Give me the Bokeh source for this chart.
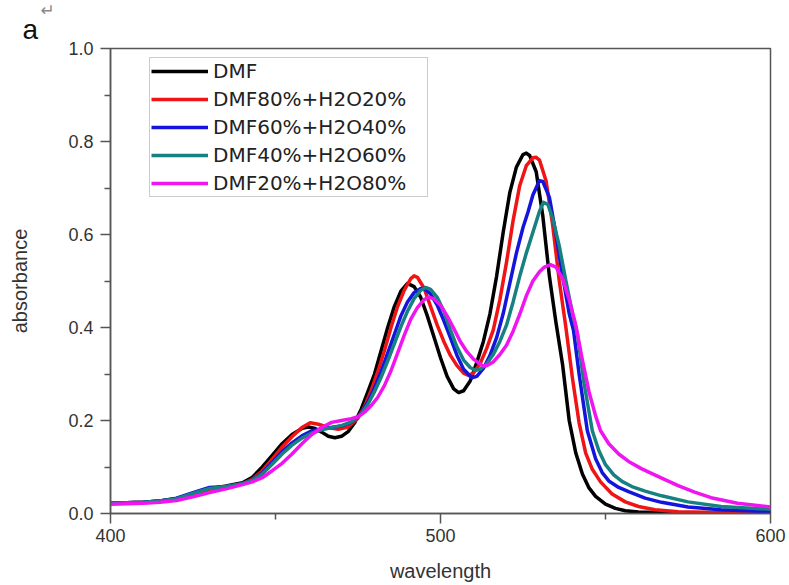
from bokeh.plotting import figure
from bokeh.models import FixedTicker, PrintfTickFormatter, Range1d, Title
from bokeh.embed import file_html
from bokeh.resources import INLINE

# ---------------- data ----------------
series_names = ["DMF", "DMF80%+H2O20%", "DMF60%+H2O40%", "DMF40%+H2O60%", "DMF20%+H2O80%"]
series_colors = ["#000000", "#f01414", "#1414dc", "#178080", "#f014f0"]

wl_dmf = [400, 410, 415, 420, 425, 430, 435, 440, 443, 446, 449, 452, 455, 458, 460, 462, 464, 466, 468,
          470, 472, 474, 476, 478, 480, 482, 484, 486, 488, 490, 492, 494, 496, 498, 500, 502, 504, 505.5,
          507, 509, 511, 513, 515, 517, 519, 521, 523, 525, 526, 527, 529, 531, 533, 535, 537, 539, 541,
          543, 545, 547, 550, 553, 556, 560, 570, 585, 600]
abs_dmf = [.022, .024, .027, .032, .042, .053, .059, .066, .078, .100, .125, .150, .170, .183, .186, .183,
           .175, .166, .163, .166, .176, .195, .225, .262, .300, .350, .400, .445, .478, .495, .488, .465,
           .425, .380, .335, .295, .268, .260, .264, .285, .325, .370, .430, .510, .605, .690, .745, .772,
           .775, .770, .735, .640, .510, .410, .320, .200, .130, .085, .055, .037, .020, .011, .006, .003,
           .001, .000, .000]

wl_h2o20 = [400, 410, 415, 420, 425, 430, 435, 440, 443, 446, 449, 452, 455, 458, 460.5, 463, 466, 469,
            472, 475, 477, 479, 481, 483, 485, 487, 489, 491, 492, 493, 495, 497, 499, 501, 503, 505, 507,
            508.5, 510, 512, 514, 516, 518, 520, 522, 524, 526, 528, 529, 530, 532, 534, 536, 538, 540,
            542, 544, 546, 548.5, 552, 556, 560, 565, 572, 585, 600]
abs_h2o20 = [.022, .024, .027, .032, .042, .052, .057, .064, .074, .092, .117, .143, .165, .185, .195,
             .192, .185, .181, .186, .205, .230, .265, .305, .350, .400, .445, .480, .505, .511, .508,
             .485, .445, .405, .370, .340, .318, .302, .297, .302, .322, .355, .395, .460, .540, .630,
             .705, .748, .765, .766, .760, .715, .620, .500, .400, .290, .195, .130, .095, .068, .042,
             .025, .015, .008, .004, .002, .001]

wl_h2o40 = [400, 410, 415, 420, 425, 430, 435, 440, 443, 446, 449, 452, 455, 458, 461, 464, 467, 470,
            473, 476, 478, 480, 482, 484, 486, 488, 490, 492, 494, 495, 497, 499, 501, 503, 505, 507,
            509.5, 511, 513, 515, 517, 519, 521, 523, 525, 526.5, 528, 530, 531, 533, 535, 537, 539,
            540.3, 542, 544.5, 547, 549, 551, 554, 557, 562, 567, 575, 585, 600]
abs_h2o40 = [.022, .024, .027, .033, .045, .056, .058, .064, .072, .087, .110, .133, .152, .167, .178,
             .182, .185, .188, .196, .215, .240, .270, .305, .345, .385, .425, .455, .475, .484, .484,
             .472, .448, .415, .378, .340, .310, .292, .295, .312, .340, .378, .430, .495, .560, .615,
             .648, .685, .716, .714, .680, .600, .510, .430, .394, .300, .178, .118, .088, .070, .056,
             .047, .033, .024, .014, .008, .004]

wl_h2o60 = [400, 410, 415, 420, 425, 430, 435, 440, 443, 446, 449, 452, 455, 458, 461, 464, 467, 470,
            473, 476, 478, 480, 482, 484, 486, 488, 490, 492, 494, 495.5, 497, 499, 501, 503, 505, 507,
            509, 510.6, 512, 514, 516, 518, 520, 522, 524, 526, 528, 530, 531.2, 532.5, 534, 536, 538,
            540, 541.5, 543.5, 546, 548, 550, 552.5, 555, 558, 562, 567, 575, 585, 600]
abs_h2o60 = [.022, .024, .027, .032, .043, .054, .058, .064, .071, .085, .106, .128, .147, .162, .173,
             .180, .185, .189, .197, .214, .235, .262, .293, .328, .365, .402, .435, .462, .480, .486,
             .482, .465, .435, .395, .358, .330, .314, .308, .310, .322, .342, .370, .405, .455, .510,
             .560, .605, .650, .669, .665, .635, .575, .500, .430, .385, .280, .178, .135, .105, .083,
             .069, .058, .048, .038, .025, .015, .009]

wl_h2o80 = [400, 410, 415, 420, 425, 430, 435, 440, 443, 446, 449, 452, 455, 458, 461, 464, 467, 470,
            473, 475, 477, 479, 481, 483, 485, 487, 489, 491, 493, 495, 496.5, 498, 500, 502, 504, 506,
            508, 510, 512.7, 514, 516, 518, 520, 522, 524, 526, 528, 530, 531.5, 533.3, 535, 537, 539,
            541, 543, 545, 547, 548.5, 551, 554, 557, 561, 566.7, 572, 577, 582, 590, 600]
abs_h2o80 = [.020, .022, .024, .028, .036, .045, .053, .062, .068, .077, .092, .108, .128, .150, .170,
             .185, .196, .200, .204, .208, .218, .232, .250, .275, .307, .345, .383, .418, .443, .460,
             .465, .462, .448, .425, .398, .370, .348, .332, .318, .318, .326, .342, .362, .392, .428,
             .468, .500, .520, .530, .535, .530, .505, .460, .405, .330, .262, .210, .178, .150, .128,
             .112, .096, .077, .060, .046, .034, .022, .014]

x_major = [400, 500, 600]
x_minor = [450, 550]
y_major = [0.0, 0.2, 0.4, 0.6, 0.8, 1.0]
y_minor = [0.1, 0.3, 0.5, 0.7, 0.9]

wl_all = [wl_dmf, wl_h2o20, wl_h2o40, wl_h2o60, wl_h2o80]
abs_all = [abs_dmf, abs_h2o20, abs_h2o40, abs_h2o60, abs_h2o80]

# ---------------- figure ----------------
p = figure(width=789, height=585, output_backend="svg", toolbar_location=None,
           x_range=Range1d(400, 600), y_range=Range1d(0, 1.0),
           min_border_left=110, min_border_right=19, min_border_top=48, min_border_bottom=72,
           background_fill_color="white", border_fill_color="white")

for wl, ab, name, col in zip(wl_all, abs_all, series_names, series_colors):
    p.line(wl, ab, line_color=col, line_width=3.5, legend_label=name, line_join="round")

p.xgrid.visible = False
p.ygrid.visible = False
p.outline_line_color = "#555555"
p.outline_line_width = 1.5

p.xaxis.ticker = FixedTicker(ticks=x_major, minor_ticks=x_minor)
p.yaxis.ticker = FixedTicker(ticks=y_major, minor_ticks=y_minor)
p.yaxis.formatter = PrintfTickFormatter(format="%.1f")

for ax in (p.xaxis[0], p.yaxis[0]):
    ax.axis_line_color = "#555555"
    ax.axis_line_width = 1.5
    ax.major_tick_line_color = "#555555"
    ax.major_tick_line_width = 1.5
    ax.minor_tick_line_color = "#555555"
    ax.minor_tick_line_width = 1.5
    ax.major_tick_in = 0
    ax.major_tick_out = 10
    ax.minor_tick_in = 0
    ax.minor_tick_out = 6
    ax.major_label_text_font = "Liberation Sans"
    ax.major_label_text_font_size = "18px"
    ax.major_label_text_color = "#333333"
    ax.axis_label_text_font = "Liberation Sans"
    ax.axis_label_text_font_size = "20px"
    ax.axis_label_text_font_style = "normal"
    ax.axis_label_text_color = "#333333"

p.xaxis.axis_label = "wavelength"
p.yaxis.axis_label = "absorbance"
p.xaxis.major_label_standoff = 5
p.yaxis.major_label_standoff = 7
p.xaxis.axis_label_standoff = 15
p.yaxis.axis_label_standoff = 34

leg = p.legend[0]
leg.location = (39, 316)
leg.margin = 0
leg.padding = 1
leg.spacing = 4
leg.glyph_width = 57
leg.glyph_height = 20
leg.label_height = 20
leg.label_width = 213
leg.label_standoff = 5
leg.label_text_font = "DejaVu Sans"
leg.label_text_font_size = "20px"
leg.label_text_color = "#222222"
leg.border_line_color = "#999999"
leg.border_line_width = 1
leg.background_fill_alpha = 1.0

p.add_layout(Title(text="a", align="left", offset=-88, standoff=8,
                   text_font="Liberation Sans", text_font_size="28px",
                   text_font_style="normal", text_color="#111111"), "above")
p.add_layout(Title(text="\u21b5", align="left", offset=-70, standoff=-24,
                   text_font="DejaVu Sans", text_font_size="17px",
                   text_font_style="normal", text_color="#888888"), "above")

open("out.html", "w").write(file_html(p, INLINE))
